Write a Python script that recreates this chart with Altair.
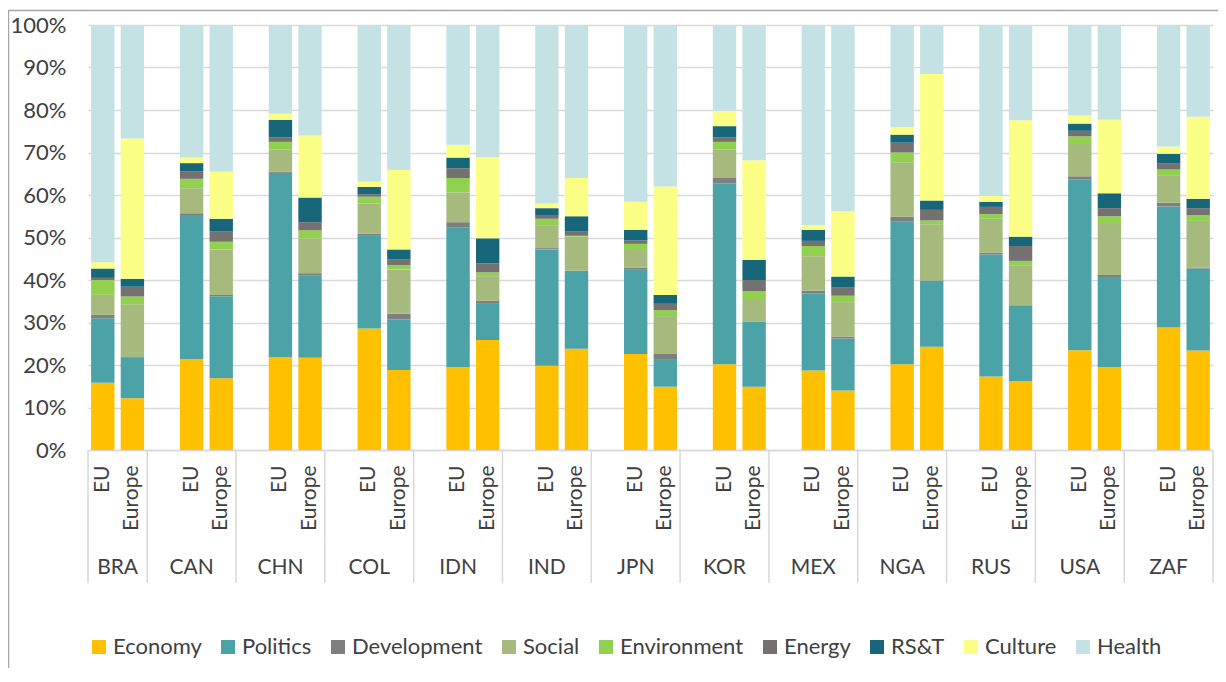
import altair as alt
import pandas as pd

countries = ["BRA", "CAN", "CHN", "COL", "IDN", "IND", "JPN", "KOR", "MEX", "NGA", "RUS", "USA", "ZAF"]
groups = ["EU", "Europe"]
categories = ["Economy", "Politics", "Development", "Social", "Environment", "Energy", "RS&T", "Culture", "Health"]
colors = ["#FFC000", "#4BA3A8", "#7F7F7F", "#A5BA7C", "#92D050", "#767171", "#17667A", "#FBFF86", "#C4E2E4"]

# values in %, order: BRA EU, BRA Europe, CAN EU, CAN Europe, ...
economy = [15.8, 12.2, 21.4, 16.9, 21.9, 21.7, 28.6, 18.8, 19.5, 25.9, 19.8, 23.8, 22.6, 14.9, 20.2, 14.9, 18.7, 14.0, 20.2, 24.3, 17.3, 16.2, 23.5, 19.5, 28.8, 23.4]
politics = [15.2, 9.5, 33.9, 19.3, 43.3, 19.3, 21.8, 11.9, 32.9, 8.5, 27.4, 18.1, 19.8, 6.5, 42.5, 15.3, 18.2, 12.2, 33.6, 15.5, 28.7, 17.8, 40.1, 21.2, 28.5, 19.3]
development = [0.8, 0.2, 0.4, 0.3, 0.3, 0.6, 0.5, 1.4, 1.2, 0.7, 0.3, 0.3, 0.5, 1.2, 1.3, 0.1, 0.6, 0.5, 1.1, 0.1, 0.4, 0.1, 0.8, 0.5, 0.9, 0.2]
social = [4.7, 12.4, 5.9, 10.7, 5.2, 8.2, 7.1, 10.4, 7.0, 5.8, 5.4, 8.0, 4.4, 8.9, 6.7, 5.0, 8.1, 8.1, 12.8, 13.2, 8.0, 9.4, 7.6, 12.2, 6.3, 11.0]
environment = [3.5, 1.8, 2.2, 1.8, 1.8, 1.9, 1.6, 1.0, 3.4, 0.9, 1.5, 0.2, 1.2, 1.4, 1.8, 2.1, 2.4, 1.5, 2.3, 0.9, 1.1, 1.0, 1.8, 1.6, 1.5, 1.4]
energy = [0.5, 2.3, 1.8, 2.5, 1.1, 1.9, 0.6, 1.4, 2.3, 2.1, 0.9, 1.1, 0.8, 1.5, 1.1, 2.6, 1.2, 1.9, 2.3, 2.5, 1.7, 3.5, 1.3, 1.9, 1.5, 1.6]
rst = [2.2, 1.9, 1.9, 2.9, 4.1, 5.8, 1.7, 2.3, 2.5, 5.9, 1.6, 3.5, 2.5, 2.1, 2.6, 4.7, 2.6, 2.6, 1.9, 2.2, 1.2, 2.2, 1.7, 3.5, 2.2, 2.2]
culture = [1.5, 33.0, 1.3, 11.1, 1.4, 14.6, 1.2, 18.7, 3.0, 19.1, 1.1, 9.0, 6.6, 25.5, 3.6, 23.5, 1.1, 15.4, 1.8, 29.8, 1.4, 27.4, 1.9, 17.3, 1.7, 19.3]
health = [55.8, 26.7, 31.2, 34.5, 20.9, 26.0, 36.9, 34.1, 28.2, 31.1, 42.0, 36.0, 41.6, 38.0, 20.2, 31.8, 47.1, 43.8, 24.0, 11.5, 40.2, 22.4, 21.3, 22.3, 28.6, 21.6]

series = [economy, politics, development, social, environment, energy, rst, culture, health]

# slot ids: a blank slot before each country group except the first
slots = []
for i, c in enumerate(countries):
    if i > 0:
        slots.append(f"{c}|")
    for g in groups:
        slots.append(f"{c}|{g}")

rows = []
for ci, cat in enumerate(categories):
    vals = series[ci]
    k = 0
    for c in countries:
        for g in groups:
            rows.append({"slot": f"{c}|{g}", "category": cat, "order": ci, "value": vals[k]})
            k += 1
df = pd.DataFrame(rows)

FONT = "Lato"
TXT = "#404040"
GRID = "#D9D9D9"
W, H = 1125, 425

xscale = alt.Scale(domain=slots, paddingInner=0, paddingOuter=0)
xaxis = alt.Axis(
    title=None, ticks=False, domain=True, domainColor=GRID, domainWidth=1.5,
    labelAngle=-90, labelAlign="right", labelBaseline="middle", labelPadding=15,
    labelExpr="split(datum.value, '|')[1]", labelOverlap=False,
    labelFont=FONT, labelFontSize=21, labelColor=TXT, grid=False,
)

bars = alt.Chart(df).mark_bar(width=alt.RelativeBandSize(0.79)).encode(
    x=alt.X("slot:N", scale=xscale, axis=xaxis, sort=slots),
    y=alt.Y(
        "value:Q", stack="zero",
        scale=alt.Scale(domain=[0, 100], nice=False),
        axis=alt.Axis(
            title=None, values=list(range(0, 101, 10)), labelExpr="datum.value + '%'",
            domain=False, ticks=False, grid=True, gridColor=GRID, gridWidth=1.5,
            labelFont=FONT, labelFontSize=22, labelColor=TXT, labelPadding=22,
        ),
    ),
    color=alt.Color(
        "category:N", sort=categories,
        scale=alt.Scale(domain=categories, range=colors),
        legend=alt.Legend(
            title=None, orient="none", legendX=0, legendY=611, direction="horizontal",
            columns=9, symbolType="square", symbolSize=196, symbolStrokeWidth=0,
            labelFont=FONT, labelFontSize=22, labelColor=TXT, labelOffset=3,
            columnPadding=15,
        ),
    ),
    order=alt.Order("order:Q", sort="ascending"),
)

# group divider lines below the axis
div_slots = ["BRA|EU"] + [f"{c}|" for c in countries[1:]]
div_df = pd.DataFrame({"slot": div_slots})
dividers = alt.Chart(div_df).mark_rule(color=GRID, strokeWidth=1.5).encode(
    x=alt.X("slot:N", scale=xscale, axis=xaxis, sort=slots, bandPosition=0),
    y=alt.value(H),
    y2=alt.value(558),
)
end_df = pd.DataFrame({"slot": [slots[-1]]})
end_div = alt.Chart(end_df).mark_rule(color=GRID, strokeWidth=1.5).encode(
    x=alt.X("slot:N", scale=xscale, axis=xaxis, sort=slots, bandPosition=1),
    y=alt.value(H),
    y2=alt.value(558),
)

# country labels
first_df = pd.DataFrame({"slot": [f"{countries[0]}|Europe"], "label": [countries[0]]})
rest_df = pd.DataFrame({"slot": [f"{c}|EU" for c in countries[1:]], "label": countries[1:]})
lab_first = alt.Chart(first_df).mark_text(
    font=FONT, fontSize=21, color=TXT, baseline="middle", align="center"
).encode(
    x=alt.X("slot:N", scale=xscale, axis=xaxis, sort=slots, bandPosition=0),
    y=alt.value(543),
    text="label:N",
)
lab_rest = alt.Chart(rest_df).mark_text(
    font=FONT, fontSize=21, color=TXT, baseline="middle", align="center"
).encode(
    x=alt.X("slot:N", scale=xscale, axis=xaxis, sort=slots, bandPosition=0.5),
    y=alt.value(543),
    text="label:N",
)

# outer chart frame (top and left edges)
one = pd.DataFrame({"k": [0]})
frame_top = alt.Chart(one).mark_rule(color="#A6A6A6", strokeWidth=1.5).encode(
    x=alt.value(-80), x2=alt.value(W + 5), y=alt.value(-14.5)
)
frame_left = alt.Chart(one).mark_rule(color="#A6A6A6", strokeWidth=1.5).encode(
    x=alt.value(-79.5), y=alt.value(-14.5), y2=alt.value(645)
)

chart = alt.layer(
    bars, dividers, end_div, lab_first, lab_rest, frame_top, frame_left
).properties(
    width=W, height=H,
    autosize=alt.AutoSizeParams(type="none"),
    padding={"left": 80, "top": 17, "right": 5, "bottom": 218},
).configure_view(strokeWidth=0)

chart.save("out.html", embed_options={"renderer": "svg", "actions": False})
